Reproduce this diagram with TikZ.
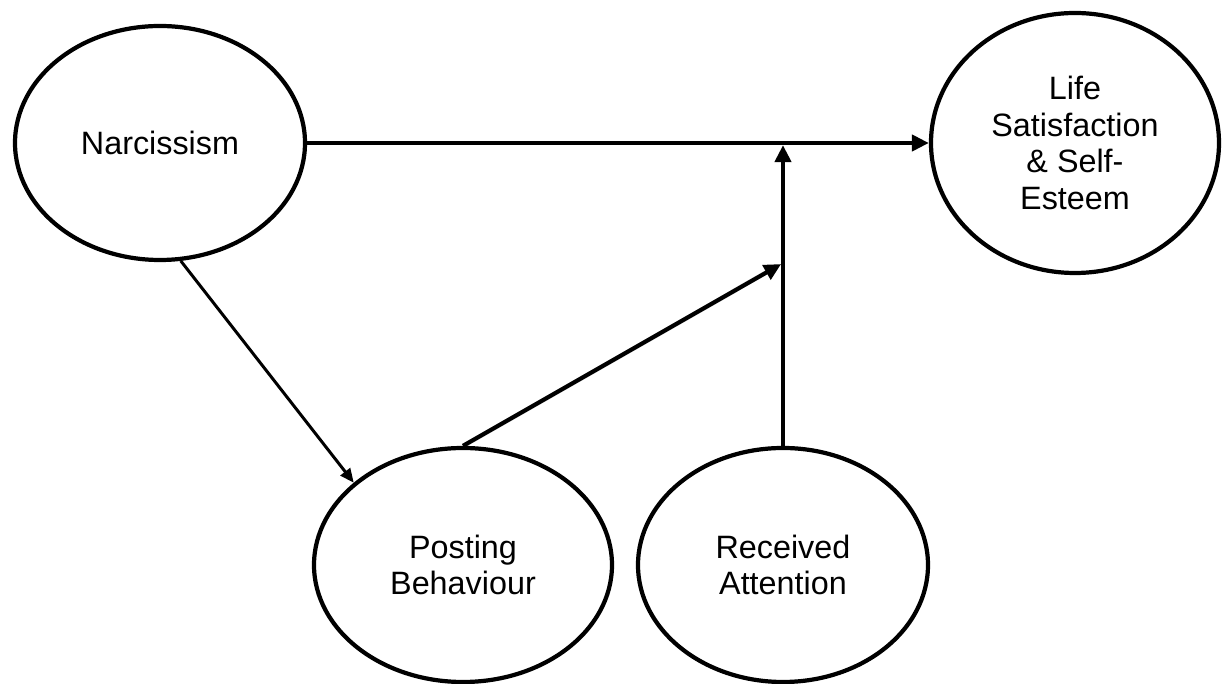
\documentclass[tikz,border=0pt]{standalone}
\usepackage{fontspec}
\setmainfont{Liberation Sans}
\usetikzlibrary{arrows.meta,shapes.geometric}
\begin{document}
\begin{tikzpicture}[>={Triangle[length=0.17cm,width=0.16cm]},
        var/.style={draw,ellipse,line width=1.2pt,inner sep=0pt,align=center,font=\fontsize{9.2}{10.4}\selectfont},
        path/.style={->,line width=1.2pt},
        thinpath/.style={-{Triangle[length=0.14cm,width=0.12cm]},line width=0.85pt}]
        \useasboundingbox (0,0) rectangle (12.23,6.84);
        \node[var,minimum width=2.90cm,minimum height=2.34cm] (narc) at (1.60,5.41) {Narcissism};
        \node[var,minimum width=2.88cm,minimum height=2.60cm] (life) at (10.75,5.41) {Life\\Satisfaction\\\& Self-\\Esteem};
        \node[var,minimum width=2.98cm,minimum height=2.34cm] (post) at (4.63,1.19) {Posting\\Behaviour};
        \node[var,minimum width=2.90cm,minimum height=2.34cm] (recv) at (7.83,1.19) {Received\\Attention};
        \coordinate (mod) at (7.83,4.21);
        \draw[path] (narc.east)--(life.west);
        \draw[path,shorten >=0.6pt] (recv.north)--(recv.north|-narc.east);
        \draw[path,shorten >=0.6pt] (post.north)--(mod);
        \draw[thinpath] (narc.-80)--(post.143);
    \end{tikzpicture}
\end{document}
